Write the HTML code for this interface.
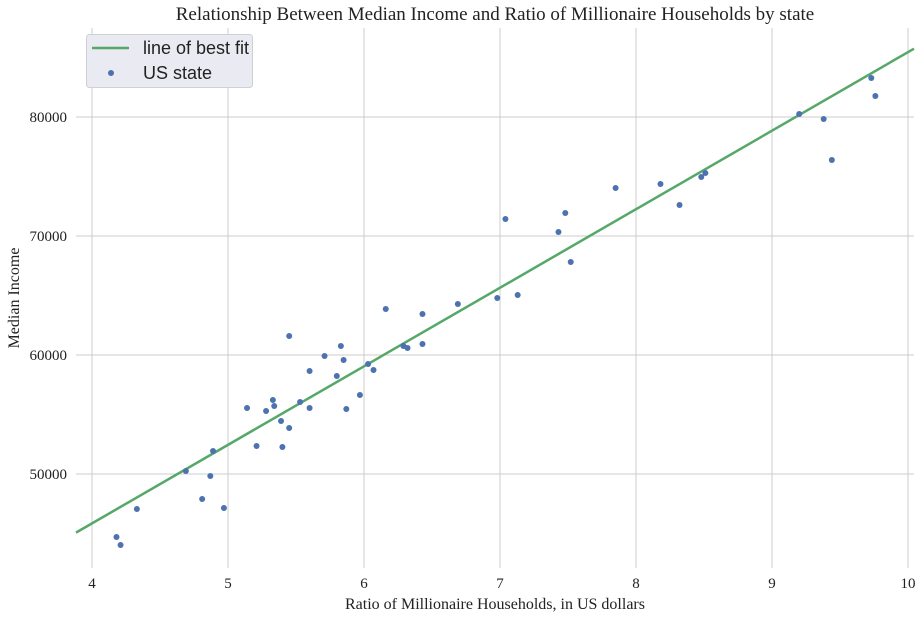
<!DOCTYPE html>
<html><head><meta charset="utf-8"><style>
body{margin:0;background:#fff;}
svg{display:block;font-family:"Liberation Serif",serif;}
</style></head><body>
<svg id="c" width="923" height="619"></svg>
<script>
const xTicks=[4,5,6,7,8,9,10];
const yTicks=[50000,60000,70000,80000];
const xs=[4.18,4.21,4.33,4.69,4.81,4.87,4.89,4.97,5.14,5.21,5.28,5.33,5.34,5.39,5.40,5.45,5.45,5.53,5.60,5.60,5.71,5.80,5.83,5.85,5.87,5.97,6.03,6.07,6.16,6.29,6.32,6.43,6.43,6.69,6.98,7.04,7.13,7.43,7.48,7.52,7.85,8.18,8.32,8.48,8.51,9.20,9.38,9.44,9.73,9.76];
const ys=[44706,44034,47059,50252,47899,49832,51933,47143,55546,52353,55294,56218,55714,54454,52269,53866,61597,56050,58655,55546,59916,58235,60756,59580,55462,56639,59244,58739,63866,60756,60588,63445,60924,64286,64790,71429,65042,70336,71933,67815,74034,74370,72605,74958,75294,80252,79832,76387,83277,81765];
const fitSlope=[6600];
const fitIntercept=[19450];
const NS="http://www.w3.org/2000/svg";
const svg=document.getElementById('c');
const L=76,R=914,T=28,B=568;
const X=v=>92+(v-4)*136;
const Y=v=>117+(80000-v)/10000*119;
function mk(t,a,p){const e=document.createElementNS(NS,t);for(const k in a)e.setAttribute(k,a[k]);(p||svg).appendChild(e);return e;}
const g=mk('g',{});


xTicks.forEach(t=>{const l=mk('line',{x1:X(t),x2:X(t),y1:T,y2:B,stroke:'#cccccc','stroke-width':1},g);


const tx=mk('text',{x:X(t),y:588,'text-anchor':'middle','font-size':15,fill:'#222'});tx.textContent=t;

});
yTicks.forEach(t=>{const l=mk('line',{x1:L,x2:R,y1:Y(t),y2:Y(t),stroke:'#cccccc','stroke-width':1},g);


const tx=mk('text',{x:67,y:Y(t)+5,'text-anchor':'end','font-size':15,fill:'#222'});tx.textContent=t;

});
const x0=(L-92)/136+4,x1=(R-92)/136+4;
const fl=mk('line',{x1:X(x0),x2:X(x1),y1:Y(fitSlope[0]*x0+fitIntercept[0]),y2:Y(fitSlope[0]*x1+fitIntercept[0]),stroke:'#55a868','stroke-width':2.5});


xs.forEach((v,i)=>{const c=mk('circle',{cx:X(v),cy:Y(ys[i]),r:3,fill:'#4c72b0'});

});
let t=mk('text',{x:495,y:20,'text-anchor':'middle','font-size':19,fill:'#222'});t.textContent='Relationship Between Median Income and Ratio of Millionaire Households by state';


t=mk('text',{x:495,y:609,'text-anchor':'middle','font-size':16,fill:'#222'});t.textContent='Ratio of Millionaire Households, in US dollars';


t=mk('text',{x:19,y:298,'text-anchor':'middle','font-size':16,fill:'#222',transform:'rotate(-90 19 298)'});t.textContent='Median Income';


const lg=mk('g',{});


mk('rect',{x:86.5,y:34.5,width:166,height:53,rx:3,fill:'#eaeaf2',stroke:'#cfcfd6'},lg);
mk('line',{x1:92,x2:129,y1:48,y2:48,stroke:'#55a868','stroke-width':2.5},lg);
mk('circle',{cx:111,cy:73,r:3,fill:'#4c72b0'},lg);
t=mk('text',{x:143,y:54,'font-size':18,fill:'#222','font-family':'Liberation Sans, sans-serif'},lg);t.textContent='line of best fit';


t=mk('text',{x:143,y:79,'font-size':18,fill:'#222','font-family':'Liberation Sans, sans-serif'},lg);t.textContent='US state';


</script>
</body></html>
